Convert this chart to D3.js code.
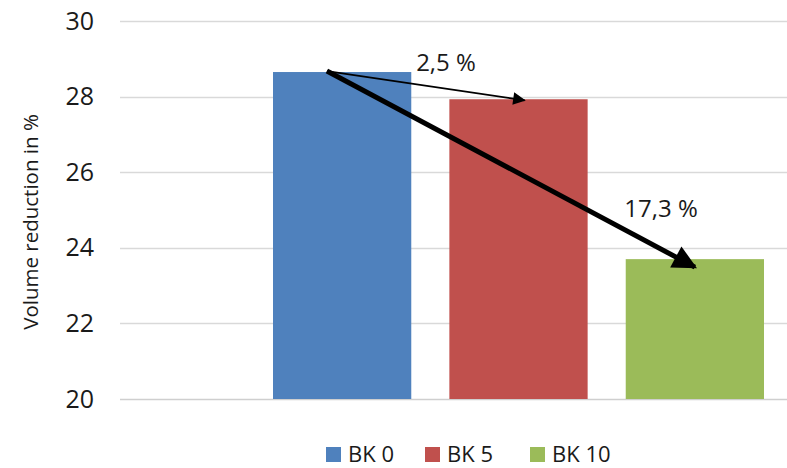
<!DOCTYPE html>
<html>
<head>
<meta charset="utf-8">
<script src="https://cdn.jsdelivr.net/npm/d3@7"></script>
<style>
  html, body { margin: 0; padding: 0; background: #fff; }
  svg { display: block; font-family: "Open Sans", "Liberation Sans", sans-serif; }
</style>
</head>
<body>
<svg id="chart" width="787" height="468"></svg>
<script>
// Volume reduction per mix variant
const categories = ["BK 0", "BK 5", "BK 10"];
const values = [28.65, 27.93, 23.7];
const colors = ["#4F81BD", "#C0504D", "#9BBB59"];
const yTicks = [20, 22, 24, 26, 28, 30];
const reductionLabels = ["2,5 %", "17,3 %"];
const yTitle = "Volume reduction in %";

const svg = d3.select("#chart");

const y = d3.scaleLinear().domain([20, 30]).range([399, 21]);
const x = d3.scaleBand().domain(categories).range([273, 764]).paddingInner(0.216).paddingOuter(0);

// Gridlines
svg.append("g")
  .selectAll("line")
  .data(yTicks)
  .join("line")
  .attr("x1", 120).attr("x2", 787)
  .attr("y1", d => Math.round(y(d)) + 0.5)
  .attr("y2", d => Math.round(y(d)) + 0.5)
  .attr("stroke", d => d === 20 ? "#CFCFCF" : "#D9D9D9")
  .attr("stroke-width", 1.5);

// Y axis labels
const yAxis = d3.axisLeft(y).tickValues(yTicks).tickSize(0).tickPadding(0).tickFormat(d3.format("d"));
svg.append("g")
  .attr("transform", "translate(94,0)")
  .call(yAxis)
  .call(g => g.select(".domain").remove())
  .call(g => g.selectAll("text")
    .attr("font-size", 25)
    .attr("fill", "#1a1a1a")
    .attr("font-family", "'Open Sans', sans-serif"));

// Y axis title
svg.append("text")
  .attr("transform", `translate(38,${(y(20) + y(30)) / 2 + 12}) rotate(-90)`)
  .attr("text-anchor", "middle")
  .attr("font-size", 20.5)
  .attr("fill", "#1a1a1a")
  .text(yTitle);

// Bars
svg.append("g")
  .selectAll("rect")
  .data(categories)
  .join("rect")
  .attr("x", d => x(d))
  .attr("y", (d, i) => y(values[i]))
  .attr("width", x.bandwidth())
  .attr("height", (d, i) => y(20) - y(values[i]))
  .attr("fill", (d, i) => colors[i]);

// Arrow markers
const defs = svg.append("defs");
defs.append("marker")
  .attr("id", "headThin")
  .attr("viewBox", "0 0 10 10")
  .attr("refX", 9).attr("refY", 5)
  .attr("markerWidth", 8).attr("markerHeight", 7)
  .attr("markerUnits", "strokeWidth")
  .attr("orient", "auto")
  .append("path").attr("d", "M0,0 L10,5 L0,10 Z").attr("fill", "#000");
defs.append("marker")
  .attr("id", "headThick")
  .attr("viewBox", "0 0 10 10")
  .attr("refX", 9).attr("refY", 5)
  .attr("markerWidth", 5.2).attr("markerHeight", 4.8)
  .attr("markerUnits", "strokeWidth")
  .attr("orient", "auto")
  .append("path").attr("d", "M0,0 L10,5 L0,10 Z").attr("fill", "#000");

const startX = x(categories[0]) + x.bandwidth() * 0.39;
const startY = y(values[0]) - 1;

// Reduction arrows from the reference bar to the other two
svg.append("line")
  .attr("x1", startX).attr("y1", startY)
  .attr("x2", x(categories[1]) + x.bandwidth() / 2 + 6).attr("y2", y(values[1]) + 1)
  .attr("stroke", "#000").attr("stroke-width", 1.8)
  .attr("marker-end", "url(#headThin)");

svg.append("line")
  .attr("x1", startX).attr("y1", startY)
  .attr("x2", x(categories[2]) + x.bandwidth() / 2).attr("y2", y(values[2]) + 8)
  .attr("stroke", "#000").attr("stroke-width", 5)
  .attr("marker-end", "url(#headThick)");

// Reduction labels
svg.append("text")
  .attr("x", 446).attr("y", 71)
  .attr("text-anchor", "middle")
  .attr("font-size", 24)
  .attr("fill", "#1a1a1a")
  .text(reductionLabels[0]);
svg.append("text")
  .attr("x", 661).attr("y", 217)
  .attr("text-anchor", "middle")
  .attr("font-size", 24)
  .attr("fill", "#1a1a1a")
  .text(reductionLabels[1]);

// Legend
const legendX = [326, 425, 530];
const legend = svg.append("g")
  .selectAll("g")
  .data(categories)
  .join("g")
  .attr("transform", (d, i) => `translate(${legendX[i]},447)`);
legend.append("rect")
  .attr("width", 15).attr("height", 15)
  .attr("fill", (d, i) => colors[i]);
legend.append("text")
  .attr("x", 22).attr("y", 15)
  .attr("font-size", 22)
  .attr("fill", "#1a1a1a")
  .text(d => d);
</script>
</body>
</html>
